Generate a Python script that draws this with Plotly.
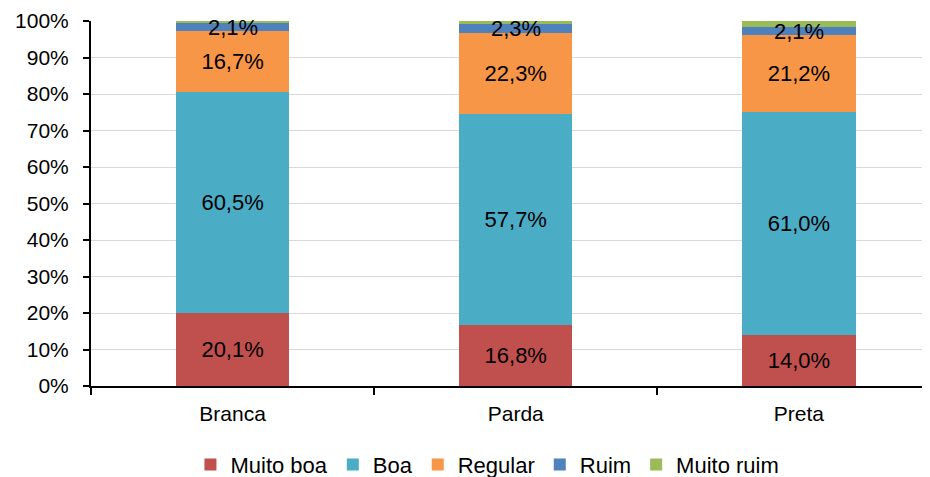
import plotly.graph_objects as go

categories = ["Branca", "Parda", "Preta"]
series_names = ["Muito boa", "Boa", "Regular", "Ruim", "Muito ruim"]
muito_boa = [20.1, 16.8, 14.0]
boa = [60.5, 57.7, 61.0]
regular = [16.7, 22.3, 21.2]
ruim = [2.1, 2.3, 2.1]
muito_ruim = [0.6, 0.9, 1.7]

colors = ["#C0504D", "#4BACC6", "#F79646", "#4F81BD", "#9BBB59"]
values = [muito_boa, boa, regular, ruim, muito_ruim]

FONT = "Liberation Sans, Arial, sans-serif"

fig = go.Figure()
for i, (name, vals) in enumerate(zip(series_names, values)):
    show_text = i < 3
    fig.add_trace(go.Bar(
        x=categories,
        y=vals,
        name=name,
        marker=dict(color=colors[i], line=dict(width=0)),
        width=0.4,
        texttemplate="%{y:.1f}%" if show_text else None,
        textposition="inside" if show_text else "none",
        insidetextanchor="middle",
        textfont=dict(size=22, color="#000000", family=FONT),
        hoverinfo="name+y",
    ))

# Ruim labels overflow the thin segment, so draw them as annotations
for j, cat in enumerate(categories):
    base = muito_boa[j] + boa[j] + regular[j]
    fig.add_annotation(
        x=cat, y=base + ruim[j] / 2,
        text=f"{ruim[j]:.1f}%".replace(".", ","),
        showarrow=False,
        font=dict(size=22, color="#000000", family=FONT),
    )

# page body adds an 8px offset, so the figure is 8px smaller than the window
fig.update_layout(
    barmode="stack",
    width=922, height=469,
    separators=",.",
    margin=dict(l=83, r=0, t=13, b=91, autoexpand=False),
    paper_bgcolor="white",
    plot_bgcolor="white",
    font=dict(family=FONT, color="#000000", size=21),
    uniformtext=dict(mode="show", minsize=22),
    legend=dict(
        orientation="h",
        xref="container",
        x=0.52, xanchor="center",
        yref="container",
        y=0.026, yanchor="middle",
        font=dict(size=22),
        itemwidth=30,
        traceorder="normal",
    ),
    xaxis=dict(
        range=[-0.5, 2.463],
        automargin=False,
        showline=True, linecolor="#000000", linewidth=2,
        ticks="outside", ticklen=7, tickcolor="#000000", tickwidth=2,
        tickson="boundaries",
        ticklabelstandoff=8,
        tickfont=dict(size=21),
        showgrid=False,
    ),
    yaxis=dict(
        range=[0, 100],
        automargin=False,
        tickvals=[0, 10, 20, 30, 40, 50, 60, 70, 80, 90, 100],
        ticktext=[f"{v}%" for v in range(0, 101, 10)],
        showline=True, linecolor="#000000", linewidth=2,
        ticks="outside", ticklen=6, tickcolor="#000000", tickwidth=2,
        ticklabelstandoff=10,
        tickfont=dict(size=21),
        showgrid=True, gridcolor="#D9D9D9", gridwidth=1,
        zeroline=False,
    ),
)

fig.write_html("out.html")
